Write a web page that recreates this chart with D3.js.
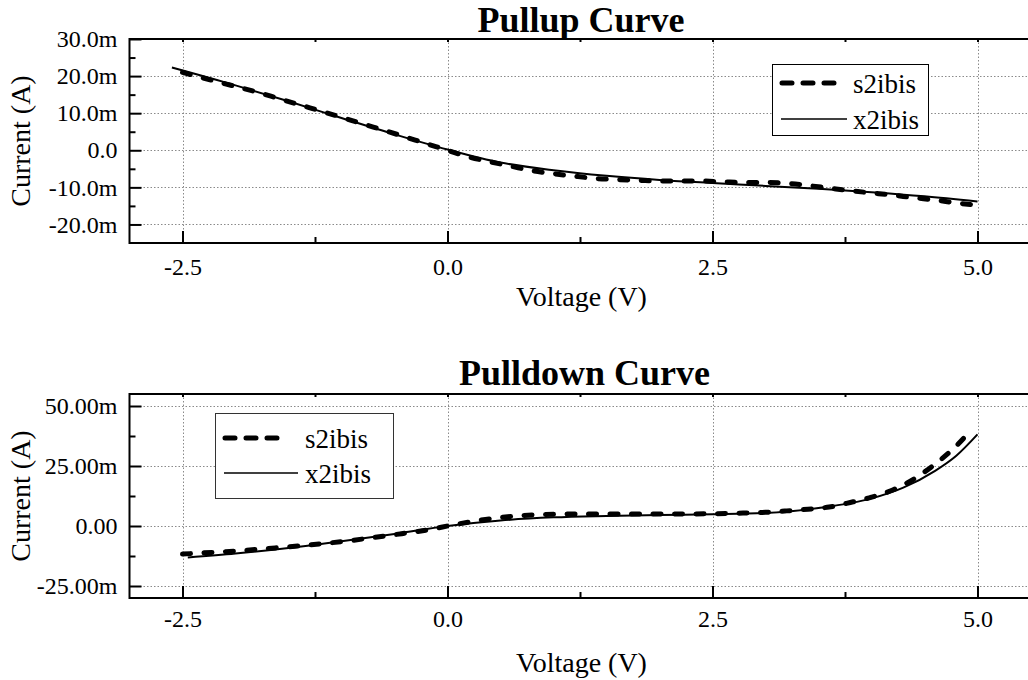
<!DOCTYPE html>
<html>
<head>
<meta charset="utf-8">
<script src="https://cdn.jsdelivr.net/npm/d3@7"></script>
<style>
  html, body { margin: 0; padding: 0; background: #fff; }
  svg { display: block; font-family: "Liberation Serif", "Times New Roman", serif; }
</style>
</head>
<body>
<script>
// ---- data -------------------------------------------------------------
// Voltage axis
const voltTicks = [-2.5, 0, 2.5, 5];
const voltMinor = [-1.25, 1.25, 3.75];
const voltLabels = ["-2.5", "0.0", "2.5", "5.0"];

// Pullup panel (currents in mA)
const pullupTicks = [-20, -10, 0, 10, 20, 30];
const pullupMinor = [-15, -5, 5, 15, 25];
const pullupLabels = ["-20.0m", "-10.0m", "0.0", "10.0m", "20.0m", "30.0m"];

const pullupS2V = [-2.5, -2.4, -2.2, -2.0, -1.8, -1.6, -1.4, -1.2, -1.0, -0.8, -0.6, -0.4, -0.2, 0.0,
                   0.2, 0.4, 0.6, 0.8, 1.0, 1.2, 1.4, 1.6, 1.8, 2.0, 2.2, 2.4, 2.6, 2.8, 3.0,
                   3.2, 3.4, 3.6, 3.8, 4.0, 4.2, 4.4, 4.6, 4.8, 5.0];
const pullupS2I = [21.0, 20.2, 18.7, 17.2, 15.7, 14.0, 12.3, 10.6, 8.9, 7.1, 5.4, 3.6, 1.8, 0.0,
                   -1.8, -3.1, -4.3, -5.5, -6.3, -7.0, -7.6, -7.9, -8.1, -8.3, -8.3, -8.3, -8.5, -8.7, -8.7,
                   -8.9, -9.5, -10.2, -10.9, -11.5, -12.1, -12.8, -13.4, -14.2, -14.8];
const pullupX2V = [-2.6, -2.0, -1.5, -1.0, -0.5, 0.0, 0.5, 1.0, 1.5, 2.0, 2.5, 3.0, 3.5, 4.0, 4.5, 5.0];
const pullupX2I = [22.3, 17.5, 13.2, 8.7, 4.3, 0.2, -3.3, -5.4, -6.9, -8.0, -8.8, -9.6, -10.4, -11.3, -12.4, -13.8];

// Pulldown panel (currents in mA)
const pulldownTicks = [-25, 0, 25, 50];
const pulldownMinor = [-12.5, 12.5, 37.5];
const pulldownLabels = ["-25.00m", "0.00", "25.00m", "50.00m"];

const pulldownS2V = [-2.5, -2.3, -2.1, -1.9, -1.7, -1.5, -1.3, -1.1, -0.9, -0.7, -0.5, -0.3, -0.1, 0.0,
                     0.2, 0.4, 0.6, 0.8, 1.0, 1.2, 1.5, 2.0, 2.5, 2.7, 3.0, 3.2, 3.4, 3.6, 3.8,
                     4.0, 4.2, 4.4, 4.6, 4.8, 4.92];
const pulldownS2I = [-11.7, -11.2, -10.7, -10.1, -9.4, -8.7, -7.9, -7.0, -6.0, -4.8, -3.6, -2.4, -0.9, 0.0,
                     1.6, 3.0, 4.0, 4.6, 4.9, 5.0, 5.0, 5.0, 5.1, 5.3, 5.7, 6.3, 7.0, 7.9, 9.8,
                     12.0, 15.0, 19.6, 25.8, 33.4, 39.0];
const pulldownX2V = [-2.45, -2.0, -1.5, -1.0, -0.5, 0.0, 0.5, 1.0, 1.5, 2.0, 2.5, 3.0, 3.5, 4.0, 4.3, 4.6, 4.8, 5.0];
const pulldownX2I = [-13.1, -11.5, -9.2, -6.4, -3.3, 0.0, 2.3, 3.6, 4.2, 4.6, 4.9, 5.4, 7.5, 11.5, 16.0, 23.0, 29.3, 38.2];

const seriesNames = ["s2ibis", "x2ibis"];

// ---- drawing ----------------------------------------------------------
const W = 1028, H = 680;
const svg = d3.select("body").append("svg").attr("width", W).attr("height", H);

const x = d3.scaleLinear().domain([-3, 5.5]).range([129.5, 1030.5]);

const dashStyle = { width: 5, dash: "8,13.5" };

function drawPanel(p) {
  const y = d3.scaleLinear().domain(p.yDomain).range([p.bottom, p.top]);
  const g = svg.append("g");

  // dotted grid
  const grid = g.append("g").attr("stroke", "#8a8a8a").attr("stroke-width", 1)
    .attr("stroke-dasharray", "1.5,2").attr("fill", "none");
  grid.selectAll("line.v").data(voltTicks).join("line")
    .attr("x1", d => Math.round(x(d)) + 0.5).attr("x2", d => Math.round(x(d)) + 0.5)
    .attr("y1", p.top).attr("y2", p.bottom);
  grid.selectAll("line.h").data(p.yTicks.filter(d => y(d) > p.top + 2)).join("line")
    .attr("x1", x.range()[0]).attr("x2", W)
    .attr("y1", d => Math.round(y(d)) + 0.5).attr("y2", d => Math.round(y(d)) + 0.5);

  // bottom axis (ticks pointing inward)
  const xAxis = d3.axisBottom(x).tickValues(voltTicks).tickSize(-12).tickPadding(p.xPad)
    .tickFormat((d, i) => voltLabels[i]);
  const gx = g.append("g").attr("transform", `translate(0,${p.bottom})`).call(xAxis);
  const gxm = g.append("g").attr("transform", `translate(0,${p.bottom})`)
    .call(d3.axisBottom(x).tickValues(voltMinor).tickSize(-6).tickFormat(""));
  // top mirror ticks
  const gxt = g.append("g").attr("transform", `translate(0,${p.top})`)
    .call(d3.axisTop(x).tickValues(voltTicks.concat(voltMinor)).tickSize(-3).tickFormat(""));

  // left axis
  const yAxis = d3.axisLeft(y).tickValues(p.yTicks).tickSize(-12).tickPadding(12)
    .tickFormat((d, i) => p.yLabels[i]);
  const gy = g.append("g").attr("transform", `translate(${x.range()[0]},0)`).call(yAxis);
  const gym = g.append("g").attr("transform", `translate(${x.range()[0]},0)`)
    .call(d3.axisLeft(y).tickValues(p.yMinor).tickSize(-6).tickFormat(""));

  [gx, gxm, gxt, gy, gym].forEach(a => {
    a.select(".domain").remove();
    a.selectAll(".tick line").attr("stroke", "#000").attr("stroke-width", 2);
    a.selectAll("text").attr("font-family", "Liberation Serif").attr("font-size", 24).attr("fill", "#000");
  });

  // frame
  g.append("rect")
    .attr("x", x.range()[0]).attr("y", p.top)
    .attr("width", x.range()[1] - x.range()[0]).attr("height", p.bottom - p.top)
    .attr("fill", "none").attr("stroke", "#000").attr("stroke-width", 2);

  // curves
  const line = d3.line().x(d => x(d[0])).y(d => y(d[1])).curve(d3.curveMonotoneX);
  g.append("path").datum(d3.zip(p.x2V, p.x2I)).attr("d", line)
    .attr("fill", "none").attr("stroke", "#000").attr("stroke-width", 2);
  g.append("path").datum(d3.zip(p.s2V, p.s2I)).attr("d", line)
    .attr("fill", "none").attr("stroke", "#000").attr("stroke-width", dashStyle.width)
    .attr("stroke-dasharray", dashStyle.dash).attr("stroke-linecap", "round");

  // title
  svg.append("text").attr("x", p.titleX).attr("y", p.titleY).attr("text-anchor", "middle")
    .attr("font-size", 36).attr("font-weight", "bold").text(p.title);

  // axis titles
  svg.append("text").attr("x", 581.5).attr("y", p.xTitleY).attr("text-anchor", "middle")
    .attr("font-size", 28).text("Voltage (V)");
  svg.append("text").attr("transform", `translate(30,${(p.top + p.bottom) / 2}) rotate(-90)`)
    .attr("text-anchor", "middle").attr("font-size", 28).text("Current (A)");

  // legend
  const L = p.legend;
  const lg = svg.append("g");
  lg.append("rect").attr("x", L.x + 0.5).attr("y", L.y + 0.5).attr("width", L.w).attr("height", L.h)
    .attr("fill", "#fff").attr("stroke", L.stroke).attr("stroke-width", 1);
  lg.append("line").attr("x1", L.x + 10).attr("x2", L.x + 62).attr("y1", L.y + L.row1).attr("y2", L.y + L.row1)
    .attr("stroke", "#000").attr("stroke-width", dashStyle.width)
    .attr("stroke-dasharray", "10,11").attr("stroke-linecap", "round");
  lg.append("line").attr("x1", L.x + 9).attr("x2", L.x + L.solidEnd).attr("y1", L.y + L.row2).attr("y2", L.y + L.row2)
    .attr("stroke", "#000").attr("stroke-width", 1.5);
  lg.selectAll("text").data(seriesNames).join("text")
    .attr("x", L.x + L.textX).attr("y", (d, i) => L.y + (i ? L.row2 : L.row1) + 10)
    .attr("font-size", 27).text(d => d);
}

drawPanel({
  title: "Pullup Curve", titleX: 581, titleY: 32,
  top: 39, bottom: 243, yDomain: [-25, 30],
  yTicks: pullupTicks, yMinor: pullupMinor, yLabels: pullupLabels,
  xPad: 15, xTitleY: 306,
  s2V: pullupS2V, s2I: pullupS2I, x2V: pullupX2V, x2I: pullupX2I,
  legend: { x: 772, y: 64, w: 156, h: 71, row1: 19, row2: 55, textX: 81, solidEnd: 75, stroke: "#000" }
});

drawPanel({
  title: "Pulldown Curve", titleX: 584.5, titleY: 385,
  top: 394, bottom: 598, yDomain: [-30, 55],
  yTicks: pulldownTicks, yMinor: pulldownMinor, yLabels: pulldownLabels,
  xPad: 12, xTitleY: 672,
  s2V: pulldownS2V, s2I: pulldownS2I, x2V: pulldownX2V, x2I: pulldownX2I,
  legend: { x: 215, y: 413, w: 178, h: 85, row1: 25, row2: 60, textX: 90, solidEnd: 83, stroke: "#333" }
});
</script>
</body>
</html>
